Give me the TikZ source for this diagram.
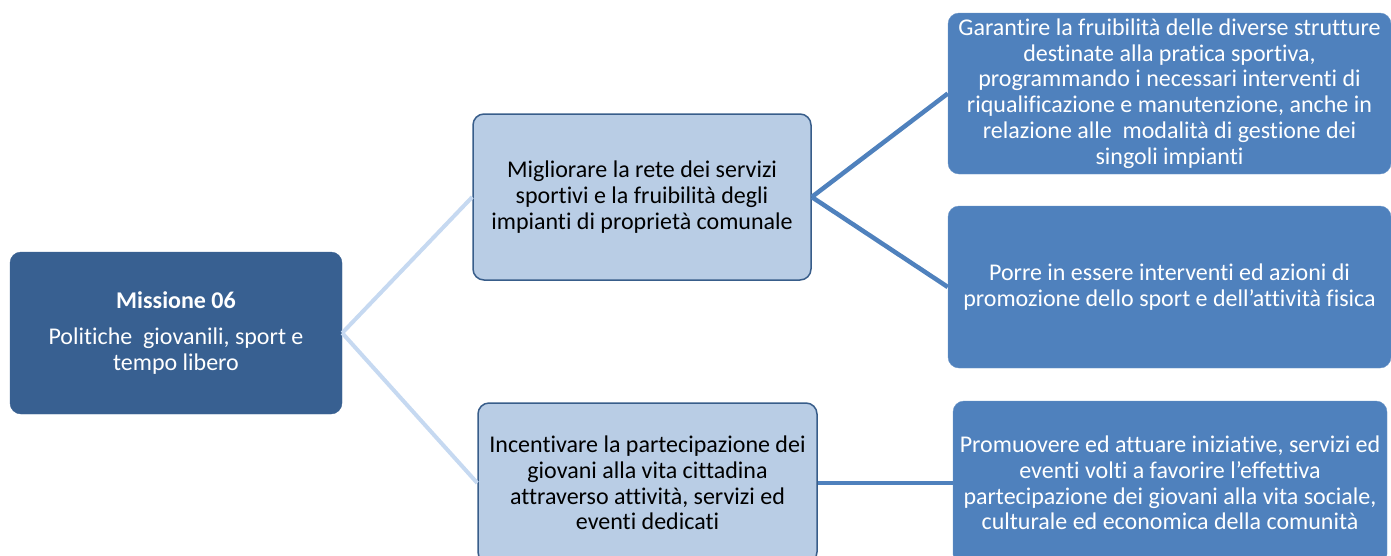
\documentclass[tikz,border=0pt]{standalone}
\usepackage{fontspec}
\setmainfont[Ligatures=NoCommon]{Carlito}
\usepackage{tikz}

\definecolor{missblue}{RGB}{56,96,145}
\definecolor{goalfill}{RGB}{185,205,229}
\definecolor{goaledge}{RGB}{56,93,138}
\definecolor{actblue}{RGB}{79,129,189}
\definecolor{paleline}{RGB}{198,217,241}

\tikzset{
  boxfont/.style={font={\fontsize{24pt}{25.8pt}\selectfont}},
  mission/.style={shape=rectangle,rounded corners=11pt,fill=missblue,draw=missblue,
    text=white,align=center,inner sep=0pt,boxfont},
  goal/.style={shape=rectangle,rounded corners=11pt,fill=goalfill,draw=goaledge,
    line width=1.5pt,text=black,align=center,inner sep=0pt,boxfont},
  action/.style={shape=rectangle,rounded corners=11pt,fill=actblue,draw=actblue!85!white,
    text=white,align=center,inner sep=0pt,boxfont},
  paleedge/.style={draw=paleline,line width=4pt},
  darkedge/.style={draw=actblue,line width=4.5pt}
}

\begin{document}
\begin{tikzpicture}[x=1pt,y=-1pt]
\useasboundingbox (0,0) rectangle (1391,555);
\clip (0,0) rectangle (1391,555);
\node[mission,minimum width=332pt,minimum height=162pt] (M) at (176,333)
  {\textbf{Missione 06}\\[11pt]Politiche\ \ giovanili, sport e\\tempo libero};
\node[goal,minimum width=338pt,minimum height=166pt] (G1) at (642,197)
  {Migliorare la rete dei servizi\\sportivi e la fruibilità degli\\impianti di proprietà comunale};
\node[goal,minimum width=339pt,minimum height=160pt] (G2) at (647.5,483)
  {Incentivare la partecipazione dei\\giovani alla vita cittadina\\attraverso attività, servizi ed\\eventi dedicati};
\node[action,minimum width=443pt,minimum height=161pt] (A1) at (1169.5,93.5)
  {Garantire la fruibilità delle diverse strutture\\destinate alla pratica sportiva,\\programmando i necessari interventi di\\riqualificazione e manutenzione, anche in\\relazione alle\ \ modalità di gestione dei\\singoli impianti};
\node[action,minimum width=443pt,minimum height=162pt] (A2) at (1169.5,287)
  {Porre in essere interventi ed azioni di\\promozione dello sport e dell’attività fisica};
\node[action,minimum width=434pt,minimum height=164pt] (A3) at (1170,483)
  {Promuovere ed attuare iniziative, servizi ed\\eventi volti a favorire l’effettiva\\partecipazione dei giovani alla vita sociale,\\culturale ed economica della comunità};
\path [paleedge] (M.east) edge (G1.west);
\path [paleedge] (M.east) edge (G2.west);
\path [darkedge] (G1.east) edge (A1.west);
\path [darkedge] (G1.east) edge (A2.west);
\path [darkedge] (G2.east) edge (A3.west);
\end{tikzpicture}
\end{document}
